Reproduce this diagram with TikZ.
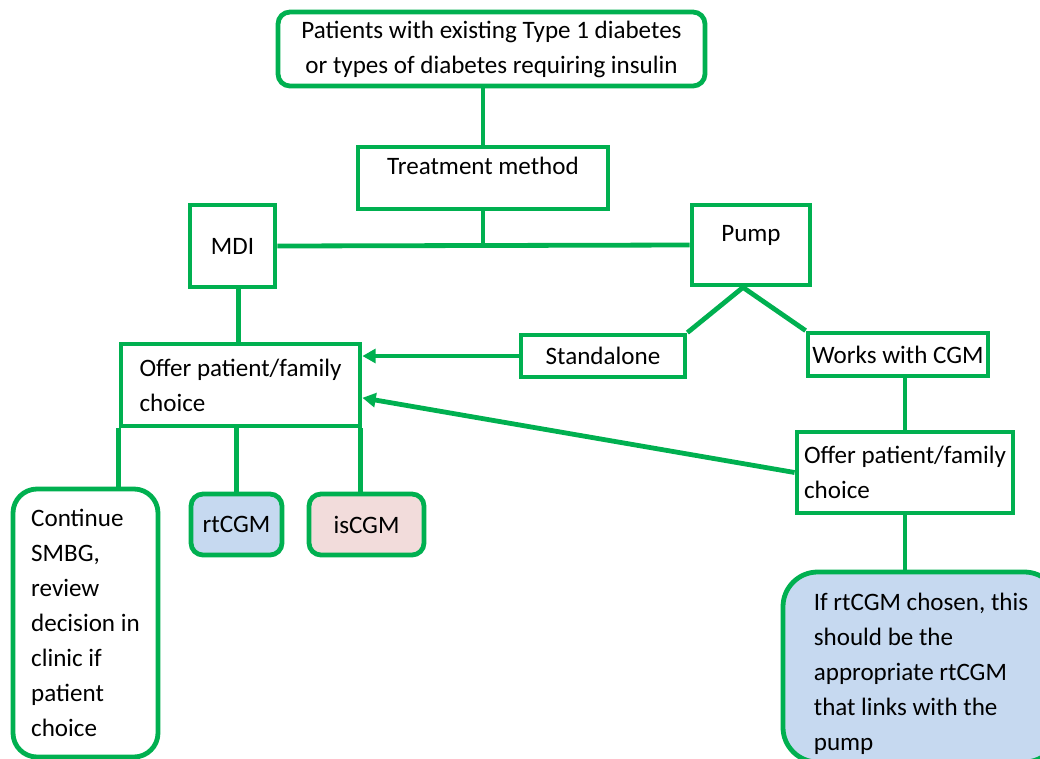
\documentclass[tikz,border=0pt]{standalone}
\usepackage{fontspec}
\setmainfont{Carlito}
\usepackage{tikz}
\usetikzlibrary{shapes}
\usetikzlibrary{arrows.meta}
\usetikzlibrary{positioning}
\usetikzlibrary{calc}
\definecolor{vert}{HTML}{00B050}
\definecolor{bleu}{HTML}{C6D9F0}
\definecolor{rose}{HTML}{F2DCDB}

\begin{document}
\begin{tikzpicture}[x=0.75pt,y=-0.75pt]
\tikzstyle{cadre}=[rectangle,draw=vert,line width=3.6pt,inner sep=2pt,
        font=\fontsize{18.8}{26.25}\selectfont,align=left]
\tikzstyle{cadrerond}=[cadre,rounded corners=9pt]
\tikzstyle{haut}=[text height=13pt,text depth=18.5pt]
%styledesliens
\tikzstyle{lien}=[draw=vert,line width=3.6pt]
\tikzstyle{suite}=[lien,-{Triangle[length=10pt,width=10.5pt]}]
\useasboundingbox (0,0) rectangle (1040,758);
%placementdesnoeuds
\node[cadrerond,align=center,minimum width=320.25pt,minimum height=55.5pt] (patients) at (491.5,49)
  {Patients with existing Type 1 diabetes\\or types of diabetes requiring insulin};
\node[cadre,haut,minimum width=187.5pt,minimum height=46.5pt] (methode) at (483,178) {Treatment method};
\node[cadre,minimum width=63.75pt,minimum height=61.5pt] (mdi) at (232.5,246) {MDI};
\node[cadre,haut,minimum width=88.5pt,minimum height=60pt] (pump) at (751,245) {Pump};
\node[cadre,minimum width=123pt,minimum height=31.5pt] (standalone) at (603,356) {Standalone};
\node[cadre,minimum width=135pt,minimum height=32.25pt] (works) at (898,354.5) {Works with CGM};
\node[cadre,minimum width=179.25pt,minimum height=61.5pt] (choixg) at (240.5,385) {Offer patient/family\\choice};
\node[cadre,minimum width=162pt,minimum height=60.75pt] (choixd) at (905,472.5) {Offer patient/family\\choice};
\node[cadrerond,rounded corners=18pt,minimum width=108.75pt,minimum height=201pt] (smbg) at (85.5,623)
  {Continue\\SMBG,\\review\\decision in\\clinic if\\patient\\choice};
\node[cadrerond,fill=bleu,minimum width=68.25pt,minimum height=45.75pt] (rtcgm) at (236.5,524.5) {rtCGM};
\node[cadrerond,fill=rose,minimum width=86.25pt,minimum height=45.75pt] (iscgm) at (366.5,524.5) {isCGM};
\node[cadrerond,rounded corners=26pt,fill=bleu,minimum width=207pt,minimum height=142.5pt] (lien) at (921,667)
  {\rule{0pt}{24pt}If rtCGM chosen, this\\should be the\\appropriate rtCGM\\that links with the\\pump};
%placementdesliens
\draw[lien] (patients.south -| methode.north) -- (methode.north);
\draw[lien] (mdi.east) -- (pump.west);
\draw[lien] (methode.south) -- (methode.south |- mdi.east);
\draw[lien] (mdi.south -| choixg.north) ++(-2,0) -- ($(choixg.north)+(-2,0)$);
\draw[lien] (pump.south) ++(-8,0) coordinate (pied) -- (standalone.north east);
\draw[lien] (pied) -- (works.north west);
\draw[suite] (standalone.west) -- (standalone.west -| choixg.east);
\draw[suite] (choixd.west) -- (choixg.-6);
\draw[lien] (choixd.north |- works.south) -- (choixd.north);
\draw[lien] (choixd.south) -- (choixd.south |- lien.north);
\draw[lien] (choixg.south west) -- (choixg.south west |- smbg.north);
\draw[lien] (rtcgm.north |- choixg.south) -- (rtcgm.north);
\draw[lien] ($(choixg.south east)+(-2,0)$) -- ($(choixg.south east |- iscgm.north)+(-2,0)$);
\end{tikzpicture}
\end{document}
